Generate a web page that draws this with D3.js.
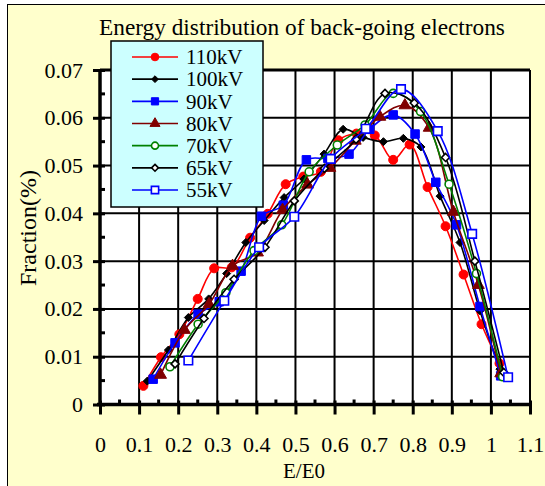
<!DOCTYPE html>
<html><head><meta charset="utf-8">
<script src="https://cdn.jsdelivr.net/npm/d3@7"></script>
<style>body{margin:0;background:#fff} svg{display:block} text{font-family:"Liberation Serif","DejaVu Serif",serif;}</style>
</head><body><svg id="c" width="545" height="486"></svg>
<script>
// ---- data ----
const seriesNames = ["110kV","100kV","90kV","80kV","70kV","65kV","55kV"];
const e110 = [0.111,0.156,0.203,0.250,0.292,0.337,0.384,0.429,0.475,0.520,0.565,0.610,0.656,0.703,0.750,0.792,0.838,0.884,0.930,0.976,1.022];
const f110 = [0.0039,0.0099,0.0147,0.0221,0.0285,0.0287,0.0349,0.0399,0.0461,0.0477,0.0487,0.0553,0.0567,0.0563,0.0512,0.0544,0.0455,0.0373,0.0272,0.0168,0.0086];
const e100 = [0.121,0.175,0.226,0.278,0.324,0.373,0.420,0.471,0.522,0.573,0.622,0.673,0.725,0.776,0.821,0.870,0.921,0.972,1.023];
const f100 = [0.0049,0.0114,0.0182,0.0221,0.0274,0.0339,0.0385,0.0433,0.0472,0.0524,0.0576,0.0559,0.0550,0.0557,0.0539,0.0436,0.0339,0.0196,0.0074];
const e90 = [0.136,0.192,0.251,0.305,0.361,0.413,0.469,0.528,0.583,0.637,0.690,0.750,0.806,0.859,0.912,0.972,1.025];
const f90 = [0.0053,0.0129,0.0189,0.0215,0.0279,0.0394,0.0417,0.0512,0.0515,0.0524,0.0576,0.0606,0.0566,0.0465,0.0376,0.0205,0.0060];
const e80 = [0.155,0.216,0.279,0.339,0.403,0.467,0.531,0.588,0.653,0.716,0.780,0.842,0.904,0.968,1.025];
const f80 = [0.0062,0.0156,0.0210,0.0290,0.0318,0.0407,0.0460,0.0495,0.0552,0.0602,0.0626,0.0579,0.0403,0.0250,0.0065];
const e70 = [0.179,0.251,0.322,0.394,0.465,0.535,0.607,0.678,0.750,0.820,0.893,0.963,1.030];
const f70 = [0.0079,0.0168,0.0234,0.0322,0.0376,0.0487,0.0543,0.0585,0.0651,0.0613,0.0461,0.0274,0.0058];
const e65 = [0.192,0.266,0.343,0.422,0.497,0.574,0.655,0.729,0.804,0.884,0.959,1.033];
const f65 = [0.0085,0.0180,0.0262,0.0329,0.0426,0.0494,0.0555,0.0651,0.0631,0.0517,0.0300,0.0067];
const e55 = [0.226,0.318,0.407,0.497,0.590,0.680,0.770,0.864,0.952,1.044];
const f55 = [0.0092,0.0217,0.0329,0.0393,0.0514,0.0577,0.0660,0.0572,0.0357,0.0057];
const xTicks = [0,0.1,0.2,0.3,0.4,0.5,0.6,0.7,0.8,0.9,1,1.1];
const xTickLabels = ["0","0.1","0.2","0.3","0.4","0.5","0.6","0.7","0.8","0.9","1","1.1"];
const yTicks = [0,0.01,0.02,0.03,0.04,0.05,0.06,0.07];
const yTickLabels = ["0","0.01","0.02","0.03","0.04","0.05","0.06","0.07"];

const allE = [e110,e100,e90,e80,e70,e65,e55];
const allF = [f110,f100,f90,f80,f70,f65,f55];
const styles = [
  {color:"#ff0000", shape:"circle", fill:"#ff0000"},
  {color:"#000000", shape:"diamond", fill:"#000000"},
  {color:"#0000ff", shape:"square", fill:"#0000ff"},
  {color:"#800000", shape:"triangle", fill:"#800000"},
  {color:"#008000", shape:"circle", fill:"#ffffff"},
  {color:"#000000", shape:"diamond", fill:"#ffffff"},
  {color:"#0000ff", shape:"square", fill:"#ffffff"}
];

const svg = d3.select("#c");
const font = '"Liberation Serif","DejaVu Serif",serif';
// outer frame
svg.append("rect").attr("x",7.5).attr("y",4.5).attr("width",560).attr("height",500)
  .attr("fill","#ffffcc").attr("stroke","#000").attr("stroke-width",1);

const x = d3.scaleLinear().domain([0,1.1]).range([100,530]);
const y = d3.scaleLinear().domain([0,0.07]).range([404.5,70]);

// plot area
svg.append("rect").attr("x",x(0)).attr("y",y(0.07)).attr("width",x(1.1)-x(0)).attr("height",y(0)-y(0.07)).attr("fill","#fff");
// gridlines
const g = svg.append("g");
g.selectAll(".vg").data(xTicks.slice(1)).join("line")
  .attr("x1",d=>x(d)).attr("x2",d=>x(d)).attr("y1",y(0)).attr("y2",y(0.07))
  .attr("stroke","#000").attr("stroke-width",2);
g.selectAll(".hg").data(yTicks.slice(1)).join("line")
  .attr("x1",x(0)).attr("x2",x(1.1)).attr("y1",d=>y(d)).attr("y2",d=>y(d))
  .attr("stroke","#000").attr("stroke-width",2);
svg.append("line").attr("x1",x(0)).attr("x2",x(1.1)).attr("y1",y(0.07)).attr("y2",y(0.07)).attr("stroke","#000").attr("stroke-width",3);

// minor ticks
const xMinor = d3.range(0.05,1.1,0.1);
svg.selectAll(".xm").data(xMinor).join("line")
  .attr("x1",d=>x(d)).attr("x2",d=>x(d)).attr("y1",y(0)-5).attr("y2",y(0))
  .attr("stroke","#000").attr("stroke-width",3);
const yMinor = d3.range(0.005,0.07,0.01);
svg.selectAll(".ym").data(yMinor).join("line")
  .attr("x1",x(0)).attr("x2",x(0)+5).attr("y1",d=>y(d)).attr("y2",d=>y(d))
  .attr("stroke","#000").attr("stroke-width",3);

// axes
const xAxis = svg.append("g").attr("transform",`translate(0,${y(0)})`)
  .call(d3.axisBottom(x).tickValues(xTicks).tickFormat((d,i)=>xTickLabels[i]).tickSize(10).tickPadding(22));
const yAxis = svg.append("g").attr("transform",`translate(${x(0)},0)`)
  .call(d3.axisLeft(y).tickValues(yTicks).tickFormat((d,i)=>yTickLabels[i]).tickSize(7).tickPadding(10));
[xAxis,yAxis].forEach(a=>{
  a.attr("font-family",font).attr("font-size",22);
  a.select(".domain").attr("stroke","#000").attr("stroke-width",3.5);
  a.selectAll(".tick line").attr("stroke","#000").attr("stroke-width",3);
  a.selectAll("text").attr("font-family",font).attr("font-size",22).attr("fill","#000");
});
yAxis.selectAll(".tick line").attr("x2",-7).attr("x1",5);
xAxis.selectAll(".tick line").attr("y1",-4);
xAxis.select(".domain").attr("d",`M${x(0)-3},0H${x(1.1)+1}`);
yAxis.select(".domain").attr("d",`M0,${y(0)+1.5}V${y(0.07)}`);

// lines & markers
function marker(shape, s){
  return {
    circle: d3.symbol(d3.symbolCircle, s*s*0.785)(),
    square: d3.symbol(d3.symbolSquare, s*s)(),
    triangle: d3.symbol(d3.symbolTriangle, s*s*0.5)(),
    diamond: `M0,${-s/2}L${s/2},0L0,${s/2}L${-s/2},0Z`
  }[shape];
}
const line = d3.line().x(d=>x(d[0])).y(d=>y(d[1])).curve(d3.curveCatmullRom.alpha(0.5));
const sizes = {circle:9, square:8.5, triangle:11, diamond:8};
allE.forEach((es,i)=>{
  const st = styles[i];
  const pts = es.map((e,j)=>[e,allF[i][j]]);
  const gs = svg.append("g");
  gs.append("path").attr("d",line(pts)).attr("fill","none").attr("stroke",st.color).attr("stroke-width",1.6);
  const sz = (st.fill==="#ffffff" && st.shape==="circle") ? 8 : sizes[st.shape];
  gs.selectAll("path.m").data(pts).join("path").attr("class","m")
    .attr("d",marker(st.shape,sz))
    .attr("transform",d=>`translate(${x(d[0])},${y(d[1])})`)
    .attr("fill",st.fill).attr("stroke",st.color).attr("stroke-width",st.fill==="#ffffff"?1.6:1);
});

// title
svg.append("text").attr("x",302).attr("y",35).attr("text-anchor","middle")
  .attr("font-family",font).attr("font-size",23.3).text("Energy distribution of back-going electrons");
// axis titles
svg.append("text").attr("x",304).attr("y",478).attr("text-anchor","middle")
  .attr("font-family",font).attr("font-size",21).text("E/E0");
svg.append("text").attr("transform","translate(36,228) rotate(-90)").attr("text-anchor","middle")
  .attr("font-family",font).attr("font-size",24).text("Fraction(%)");

// legend
const lg = svg.append("g");
lg.append("rect").attr("x",111).attr("y",41).attr("width",152).attr("height",166)
  .attr("fill","#ccffff").attr("stroke","#000").attr("stroke-width",1.5);
const legY = d3.scaleLinear().domain([0,6]).range([57,190]);
seriesNames.forEach((n,i)=>{
  const st = styles[i];
  const cy = legY(i);
  lg.append("line").attr("x1",132).attr("x2",178).attr("y1",cy).attr("y2",cy).attr("stroke",st.color).attr("stroke-width",1.6);
  const sz = (st.fill==="#ffffff" && st.shape==="circle") ? 7 : sizes[st.shape]*0.85;
  lg.append("path").attr("d",marker(st.shape,sz)).attr("transform",`translate(155,${cy})`)
    .attr("fill",st.fill).attr("stroke",st.color).attr("stroke-width",st.fill==="#ffffff"?1.6:1);
  lg.append("text").attr("x",186).attr("y",cy+7.3).attr("font-family",font).attr("font-size",21).text(n);
});
</script></body></html>
